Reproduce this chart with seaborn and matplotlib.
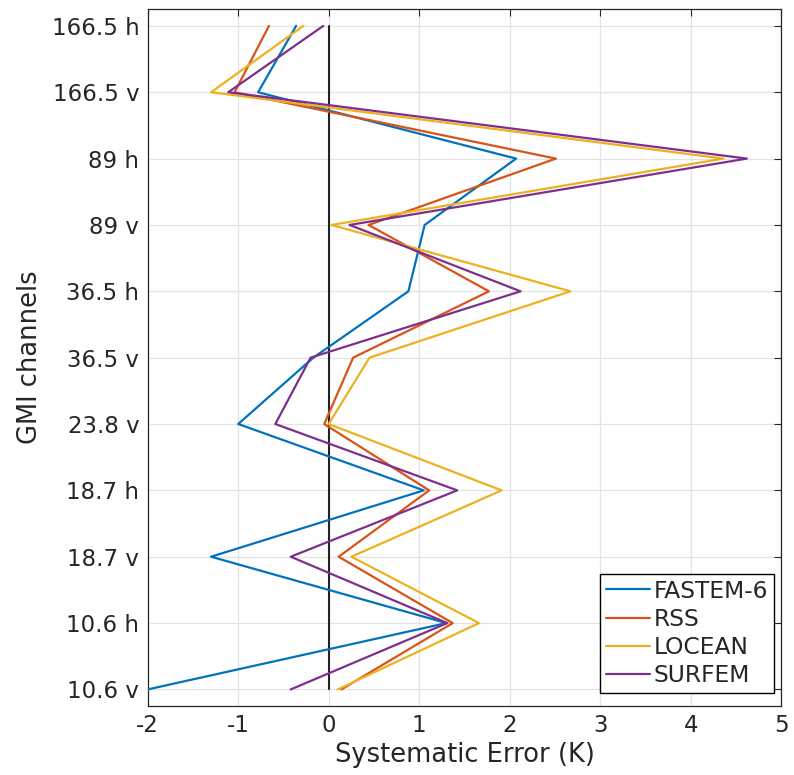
import matplotlib
matplotlib.use("Agg")
import matplotlib.pyplot as plt
import numpy as np
import pandas as pd
import seaborn as sns

# GMI channels, bottom to top
channels = ["10.6 v", "10.6 h", "18.7 v", "18.7 h", "23.8 v", "36.5 v",
            "36.5 h", "89 v", "89 h", "166.5 v", "166.5 h"]

# Systematic error (K) per model
fastem6 = [-2.00, 1.30, -1.30, 1.05, -1.00, -0.17, 0.88, 1.06, 2.07, -0.78, -0.36]
rss     = [0.14, 1.37, 0.11, 1.11, -0.05, 0.27, 1.77, 0.44, 2.51, -1.04, -0.66]
locean  = [0.10, 1.66, 0.25, 1.91, 0.00, 0.45, 2.67, 0.03, 4.36, -1.30, -0.28]
surfem  = [-0.42, 1.31, -0.42, 1.42, -0.59, -0.20, 2.12, 0.23, 4.62, -1.11, -0.06]

models = ["FASTEM-6", "RSS", "LOCEAN", "SURFEM"]
series = [fastem6, rss, locean, surfem]
colors = ["#0072BD", "#D95319", "#EDB120", "#7E2F8E"]

pos = np.arange(len(channels))
df = pd.concat(
    [pd.DataFrame({"model": m, "pos": pos, "error": v}) for m, v in zip(models, series)],
    ignore_index=True,
)

sns.set_style("white")
plt.rcParams["font.family"] = ["DejaVu Sans"]

fig = plt.figure(figsize=(7.94, 7.75), dpi=100)
ax = fig.add_axes([0.186, 0.089, 0.798, 0.899])

ax.grid(True, color="#e3e3e3", linewidth=0.9, zorder=0)
ax.set_axisbelow(True)

sns.lineplot(data=df, x="error", y="pos", hue="model", hue_order=models,
             palette=colors, orient="y", sort=False, estimator=None,
             linewidth=1.6, ax=ax, zorder=3)

# zero reference line
ax.plot([0, 0], [pos[0], pos[-1]], color="#222222", linewidth=1.5, zorder=2)

ax.set_xlim(-2, 5)
ax.set_ylim(-0.25, 10.25)
ax.set_xticks(np.arange(-2, 6, 1))
ax.set_xticklabels([str(t) for t in range(-2, 6)])
ax.set_yticks(pos)
ax.set_yticklabels(channels)

ax.tick_params(axis="both", which="both", direction="in", length=5, width=0.8,
               top=True, right=True, labelsize=16.5, colors="#262626",
               labelcolor="#262626", pad=6)
for s in ax.spines.values():
    s.set_color("#262626")
    s.set_linewidth(0.9)

ax.set_xlabel("Systematic Error (K)", fontsize=18.5, color="#262626", labelpad=3)
ax.set_ylabel("GMI channels", fontsize=18.5, color="#262626", labelpad=6)

leg = ax.legend(loc="lower right", bbox_to_anchor=(0.989, 0.019),
                fontsize=16.8, frameon=True, fancybox=False,
                edgecolor="black", framealpha=1, handlelength=1.9,
                handletextpad=0.15, borderpad=0.25, labelspacing=0.22,
                borderaxespad=0.0)
leg.get_frame().set_linewidth(1.0)
for line in leg.get_lines():
    line.set_linewidth(1.6)

fig.savefig("out.png", dpi=100)
